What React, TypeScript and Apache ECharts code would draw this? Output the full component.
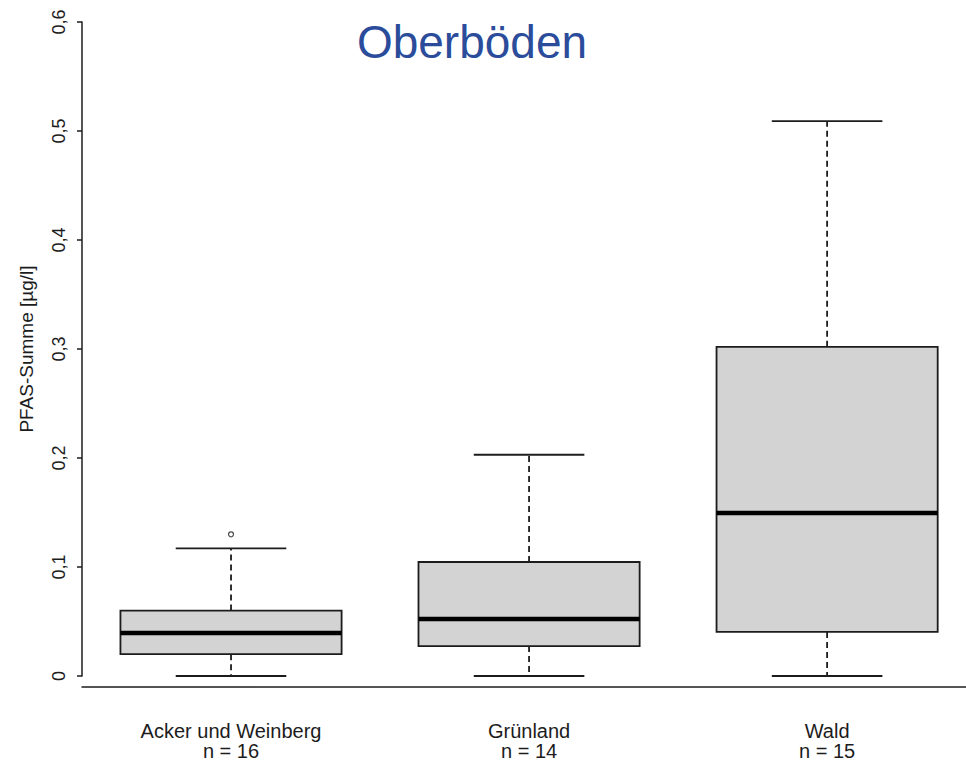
import React, { useEffect, useRef } from "react";
import * as echarts from "echarts";

const categories = ["Acker und Weinberg", "Grünland", "Wald"];
const counts = [16, 14, 15];
const positions = [1, 2, 3];
const whiskerLow = [0, 0, 0];
const quartile1 = [0.02, 0.0275, 0.0404];
const medians = [0.0394, 0.0523, 0.1495];
const quartile3 = [0.06, 0.1046, 0.302];
const whiskerHigh = [0.117, 0.203, 0.509];
const outliers: [number, number][] = [[1, 0.13]];
const yMin = 0;
const yMax = 0.6;
const yStep = 0.1;
const xMin = 0.5;
const xMax = 3.466;
const titleText = "Oberböden";
const yAxisTitle = "PFAS-Summe [µg/l]";

const FONT = '"Liberation Sans", Arial, sans-serif';
const INK = "#1c1c1c";

export default function App() {
  const ref = useRef<HTMLDivElement | null>(null);

  useEffect(() => {
    if (!ref.current) return;
    const chart = echarts.init(ref.current, null, { renderer: "svg" });

    const boxData = categories.map((_, i) => [
      positions[i],
      whiskerLow[i],
      quartile1[i],
      medians[i],
      quartile3[i],
      whiskerHigh[i],
    ]);

    const option: any = {
      animation: false,
      backgroundColor: "#ffffff",
      grid: { left: 82, top: 22, bottom: 87, right: 0, containLabel: false },
      graphic: [
        {
          type: "text",
          x: 472,
          y: 42,
          style: {
            text: titleText,
            fontSize: 46,
            fontFamily: FONT,
            fill: "#2B4C9B",
            align: "center",
            verticalAlign: "middle",
          },
        },
      ],
      xAxis: {
        type: "value",
        min: xMin,
        max: xMax,
        offset: 11,
        axisLine: { show: true, onZero: false, lineStyle: { color: INK, width: 1.5 } },
        axisTick: { show: false },
        splitLine: { show: false },
        axisLabel: {
          customValues: positions,
          margin: 34,
          fontSize: 20,
          fontFamily: FONT,
          color: INK,
          lineHeight: 20,
          formatter: (v: number) => {
            const i = positions.indexOf(Math.round(v));
            return i < 0 ? "" : `${categories[i]}\nn = ${counts[i]}`;
          },
        },
      },
      yAxis: {
        type: "value",
        min: yMin,
        max: yMax,
        interval: yStep,
        name: yAxisTitle,
        nameLocation: "middle",
        nameGap: 46,
        nameTextStyle: { fontSize: 19, fontFamily: FONT, color: INK },
        axisLine: { show: true, lineStyle: { color: INK, width: 1.5 } },
        axisTick: { show: true, length: 5, lineStyle: { color: INK, width: 1.5 } },
        splitLine: { show: false },
        axisLabel: {
          rotate: 90,
          margin: 14,
          fontSize: 18,
          fontFamily: FONT,
          color: INK,
          formatter: (v: number) =>
            v === 0 ? "0" : v.toFixed(1).replace(".", ","),
        },
      },
      series: [
        {
          type: "custom",
          data: boxData,
          encode: { x: 0, y: [1, 2, 3, 4, 5] },
          renderItem: (params: any, api: any) => {
            const xv = api.value(0);
            const lo = api.coord([xv, api.value(1)]);
            const q1 = api.coord([xv, api.value(2)]);
            const med = api.coord([xv, api.value(3)]);
            const q3 = api.coord([xv, api.value(4)]);
            const hi = api.coord([xv, api.value(5)]);
            const band = api.size([1, 0])[0];
            const bw = band * 0.742;
            const cw = bw / 2;
            const cx = lo[0];
            const dash = { stroke: INK, lineWidth: 1.8, lineDash: [6, 4] };
            const solid = { stroke: INK, lineWidth: 1.8 };
            return {
              type: "group",
              children: [
                {
                  type: "line",
                  shape: { x1: cx, y1: q3[1], x2: cx, y2: hi[1] },
                  style: dash,
                },
                {
                  type: "line",
                  shape: { x1: cx, y1: q1[1], x2: cx, y2: lo[1] },
                  style: dash,
                },
                {
                  type: "line",
                  shape: { x1: cx - cw / 2, y1: hi[1], x2: cx + cw / 2, y2: hi[1] },
                  style: solid,
                },
                {
                  type: "line",
                  shape: { x1: cx - cw / 2, y1: lo[1], x2: cx + cw / 2, y2: lo[1] },
                  style: solid,
                },
                {
                  type: "rect",
                  shape: { x: cx - bw / 2, y: q3[1], width: bw, height: q1[1] - q3[1] },
                  style: { fill: "#D3D3D3", stroke: INK, lineWidth: 1.8 },
                },
                {
                  type: "line",
                  shape: { x1: cx - bw / 2, y1: med[1], x2: cx + bw / 2, y2: med[1] },
                  style: { stroke: "#000000", lineWidth: 4.5 },
                },
              ],
            };
          },
        },
        {
          type: "scatter",
          data: outliers,
          symbol: "circle",
          symbolSize: 5,
          itemStyle: { color: "#ffffff", borderColor: INK, borderWidth: 1.2 },
        },
      ],
    };

    chart.setOption(option);
    return () => chart.dispose();
  }, []);

  return (
    <div
      ref={ref}
      style={{ position: "fixed", left: 0, top: 0, width: 966, height: 763 }}
    />
  );
}
